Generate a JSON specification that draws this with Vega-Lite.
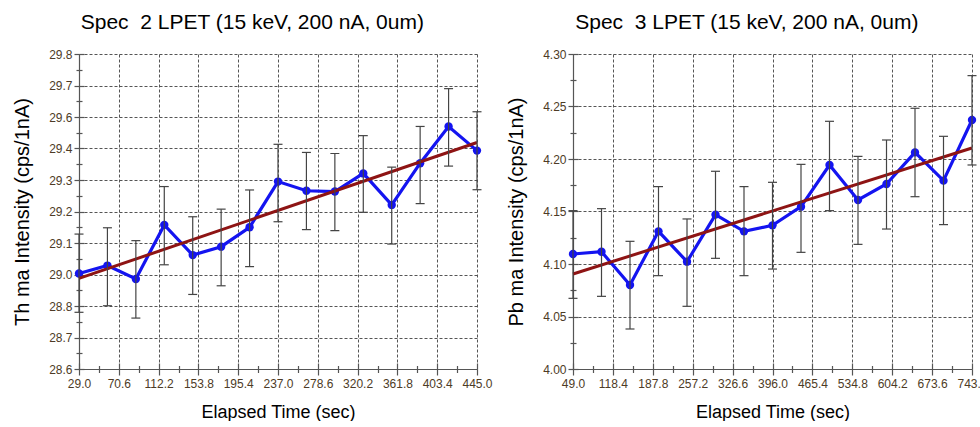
{
  "$schema": "https://vega.github.io/schema/vega-lite/v6.json",
  "padding": {"left": 12, "top": 12, "right": 0, "bottom": 0},
  "spacing": 13,
  "config": {"view": {"stroke": null}, "font": "Liberation Sans"},
  "datasets": {
    "left": [
      {"t": 29.0, "y": 28.964, "lo": 28.816, "hi": 29.114},
      {"t": 58.71, "y": 28.994, "lo": 28.841, "hi": 29.138},
      {"t": 88.43, "y": 28.943, "lo": 28.794, "hi": 29.089},
      {"t": 118.14, "y": 29.149, "lo": 28.997, "hi": 29.295},
      {"t": 147.86, "y": 29.034, "lo": 28.884, "hi": 29.18},
      {"t": 177.57, "y": 29.066, "lo": 28.917, "hi": 29.209},
      {"t": 207.29, "y": 29.14, "lo": 28.99, "hi": 29.282},
      {"t": 237.0, "y": 29.314, "lo": 29.161, "hi": 29.456},
      {"t": 266.71, "y": 29.279, "lo": 29.131, "hi": 29.425},
      {"t": 296.43, "y": 29.276, "lo": 29.127, "hi": 29.421},
      {"t": 326.14, "y": 29.345, "lo": 29.197, "hi": 29.489},
      {"t": 355.86, "y": 29.225, "lo": 29.076, "hi": 29.369},
      {"t": 385.57, "y": 29.384, "lo": 29.23, "hi": 29.524},
      {"t": 415.29, "y": 29.524, "lo": 29.373, "hi": 29.668},
      {"t": 445.0, "y": 29.432, "lo": 29.283, "hi": 29.58}
    ],
    "leftfit": [
      {"t": 29.0, "fit": 28.945},
      {"t": 445.0, "fit": 29.463}
    ],
    "right": [
      {"t": 49.0, "y": 4.1095, "lo": 4.0673, "hi": 4.1508},
      {"t": 98.57, "y": 4.1117, "lo": 4.0692, "hi": 4.1527},
      {"t": 148.14, "y": 4.08, "lo": 4.0381, "hi": 4.1216},
      {"t": 197.71, "y": 4.1311, "lo": 4.0889, "hi": 4.1737},
      {"t": 247.29, "y": 4.1022, "lo": 4.0597, "hi": 4.1429},
      {"t": 296.86, "y": 4.147, "lo": 4.1054, "hi": 4.1883},
      {"t": 346.43, "y": 4.1311, "lo": 4.0889, "hi": 4.1737},
      {"t": 396.0, "y": 4.1368, "lo": 4.0952, "hi": 4.1778},
      {"t": 445.57, "y": 4.1546, "lo": 4.1111, "hi": 4.1949},
      {"t": 495.14, "y": 4.1943, "lo": 4.1508, "hi": 4.2359},
      {"t": 544.71, "y": 4.161, "lo": 4.1187, "hi": 4.2025},
      {"t": 594.29, "y": 4.1762, "lo": 4.1333, "hi": 4.2181},
      {"t": 643.86, "y": 4.2063, "lo": 4.1641, "hi": 4.2483},
      {"t": 693.43, "y": 4.1794, "lo": 4.1375, "hi": 4.2216},
      {"t": 743.0, "y": 4.2371, "lo": 4.1943, "hi": 4.2794}
    ],
    "rightfit": [
      {"t": 49.0, "fit": 4.0905},
      {"t": 743.0, "fit": 4.2105}
    ]
  },
  "hconcat": [
    {
      "width": 398,
      "height": 315,
      "title": {"text": "Spec \u00a02 LPET (15 keV, 200 nA, 0um)", "anchor": "middle", "frame": "bounds", "font": "Liberation Sans", "fontSize": 21, "fontWeight": "normal", "color": "#000000", "offset": 15},
      "resolve": {"axis": {"x": "independent", "y": "independent"}},
      "layer": [
        {
          "data": {"name": "left"},
          "mark": {"type": "line", "color": "#1414f0", "strokeWidth": 3.2},
          "encoding": {
            "x": {"field": "t", "type": "quantitative", "scale": {"domain": [29, 445], "nice": false, "zero": false},
              "axis": {"orient": "bottom", "values": [29, 70.6, 112.2, 153.8, 195.4, 237, 278.6, 320.2, 361.8, 403.4, 445], "format": ".1f", "grid": true, "gridDash": [3, 2], "gridColor": "#555555", "gridWidth": 1, "gridOpacity": 1, "domainColor": "#555555", "domainWidth": 1.2, "tickColor": "#555555", "tickSize": 6, "tickWidth": 1.2, "labelFont": "Liberation Sans", "labelFontSize": 12, "labelColor": "#4d3b26", "labelPadding": 3, "labelFlush": false, "labelOverlap": false, "title": "Elapsed Time (sec)", "titleFont": "Liberation Sans", "titleFontSize": 18, "titleFontWeight": "normal", "titleColor": "#000000", "titlePadding": 14}},
            "y": {"field": "y", "type": "quantitative", "scale": {"domain": [28.6, 29.8], "nice": false, "zero": false},
              "axis": {"orient": "left", "values": [28.6, 28.72, 28.84, 28.96, 29.08, 29.2, 29.32, 29.44, 29.56, 29.68, 29.8], "format": ".1f", "grid": true, "gridDash": [3, 2], "gridColor": "#555555", "gridWidth": 1, "gridOpacity": 1, "domainColor": "#555555", "domainWidth": 1.2, "tickColor": "#555555", "tickSize": 5, "tickWidth": 1.2, "labelFont": "Liberation Sans", "labelFontSize": 12, "labelColor": "#4d3b26", "labelPadding": 2, "labelFlush": false, "labelOverlap": false, "title": "Th ma Intensity (cps/1nA)", "titleFont": "Liberation Sans", "titleFontSize": 20, "titleFontWeight": "normal", "titleColor": "#000000", "titlePadding": 16}}
          }
        },
        {
          "data": {"name": "left"},
          "mark": {"type": "point", "filled": true, "shape": "circle", "size": 70, "color": "#1414f0", "opacity": 1},
          "encoding": {
            "x": {"field": "t", "type": "quantitative", "axis": {"orient": "bottom", "values": [29, 70.6, 112.2, 153.8, 195.4, 237, 278.6, 320.2, 361.8, 403.4, 445], "labels": false, "domain": false, "grid": false, "tickColor": "#555555", "tickSize": -6, "tickWidth": 1.2, "title": null}},
            "y": {"field": "y", "type": "quantitative", "axis": {"orient": "left", "values": [28.6, 28.72, 28.84, 28.96, 29.08, 29.2, 29.32, 29.44, 29.56, 29.68, 29.8], "labels": false, "domain": false, "grid": false, "tickColor": "#555555", "tickSize": -5, "tickWidth": 1.2, "title": null}}
          }
        },
        {
          "data": {"name": "leftfit"},
          "mark": {"type": "line", "color": "#8e1414", "strokeWidth": 3},
          "encoding": {
            "x": {"field": "t", "type": "quantitative", "axis": {"orient": "bottom", "values": [49.8, 91.4, 133, 174.6, 216.2, 257.8, 299.4, 341, 382.6, 424.2], "labels": false, "domain": false, "grid": false, "tickColor": "#555555", "tickSize": 3.5, "tickWidth": 1.2, "title": null}},
            "y": {"field": "fit", "type": "quantitative", "axis": {"orient": "left", "values": [28.66, 28.78, 28.9, 29.02, 29.14, 29.26, 29.38, 29.5, 29.62, 29.74], "labels": false, "domain": false, "grid": false, "tickColor": "#555555", "tickSize": 3, "tickWidth": 1.2, "title": null}}
          }
        },
        {
          "data": {"name": "left"},
          "mark": {"type": "rule", "color": "#444444", "strokeWidth": 1.2},
          "encoding": {
            "x": {"field": "t", "type": "quantitative", "axis": {"orient": "bottom", "values": [49.8, 91.4, 133, 174.6, 216.2, 257.8, 299.4, 341, 382.6, 424.2], "labels": false, "domain": false, "grid": false, "tickColor": "#555555", "tickSize": -3.5, "tickWidth": 1.2, "title": null}},
            "y": {"field": "lo", "type": "quantitative", "axis": {"orient": "left", "values": [28.66, 28.78, 28.9, 29.02, 29.14, 29.26, 29.38, 29.5, 29.62, 29.74], "labels": false, "domain": false, "grid": false, "tickColor": "#555555", "tickSize": -3, "tickWidth": 1.2, "title": null}},
            "y2": {"field": "hi"}
          }
        },
        {
          "data": {"name": "left"},
          "mark": {"type": "tick", "orient": "horizontal", "color": "#444444", "size": 9, "thickness": 1.2, "opacity": 1},
          "encoding": {
            "x": {"field": "t", "type": "quantitative", "axis": null},
            "y": {"field": "lo", "type": "quantitative", "axis": null}
          }
        },
        {
          "data": {"name": "left"},
          "mark": {"type": "tick", "orient": "horizontal", "color": "#444444", "size": 9, "thickness": 1.2, "opacity": 1},
          "encoding": {
            "x": {"field": "t", "type": "quantitative", "axis": null},
            "y": {"field": "hi", "type": "quantitative", "axis": null}
          }
        }
      ]
    },
    {
      "width": 399,
      "height": 315,
      "title": {"text": "Spec \u00a03 LPET (15 keV, 200 nA, 0um)", "anchor": "middle", "frame": "bounds", "font": "Liberation Sans", "fontSize": 21, "fontWeight": "normal", "color": "#000000", "offset": 15},
      "resolve": {"axis": {"x": "independent", "y": "independent"}},
      "layer": [
        {
          "data": {"name": "right"},
          "mark": {"type": "line", "color": "#1414f0", "strokeWidth": 3.2},
          "encoding": {
            "x": {"field": "t", "type": "quantitative", "scale": {"domain": [49, 743], "nice": false, "zero": false},
              "axis": {"orient": "bottom", "values": [49, 118.4, 187.8, 257.2, 326.6, 396, 465.4, 534.8, 604.2, 673.6, 743], "format": ".1f", "grid": true, "gridDash": [3, 2], "gridColor": "#555555", "gridWidth": 1, "gridOpacity": 1, "domainColor": "#555555", "domainWidth": 1.2, "tickColor": "#555555", "tickSize": 6, "tickWidth": 1.2, "labelFont": "Liberation Sans", "labelFontSize": 12, "labelColor": "#4d3b26", "labelPadding": 3, "labelFlush": false, "labelOverlap": false, "title": "Elapsed Time (sec)", "titleFont": "Liberation Sans", "titleFontSize": 18, "titleFontWeight": "normal", "titleColor": "#000000", "titlePadding": 14}},
            "y": {"field": "y", "type": "quantitative", "scale": {"domain": [4.0, 4.3], "nice": false, "zero": false},
              "axis": {"orient": "left", "values": [4.0, 4.05, 4.1, 4.15, 4.2, 4.25, 4.3], "format": ".2f", "grid": true, "gridDash": [3, 2], "gridColor": "#555555", "gridWidth": 1, "gridOpacity": 1, "domainColor": "#555555", "domainWidth": 1.2, "tickColor": "#555555", "tickSize": 5, "tickWidth": 1.2, "labelFont": "Liberation Sans", "labelFontSize": 12, "labelColor": "#4d3b26", "labelPadding": 2, "labelFlush": false, "labelOverlap": false, "title": "Pb ma Intensity (cps/1nA)", "titleFont": "Liberation Sans", "titleFontSize": 20, "titleFontWeight": "normal", "titleColor": "#000000", "titlePadding": 16}}
          }
        },
        {
          "data": {"name": "right"},
          "mark": {"type": "point", "filled": true, "shape": "circle", "size": 70, "color": "#1414f0", "opacity": 1},
          "encoding": {
            "x": {"field": "t", "type": "quantitative", "axis": {"orient": "bottom", "values": [49, 118.4, 187.8, 257.2, 326.6, 396, 465.4, 534.8, 604.2, 673.6, 743], "labels": false, "domain": false, "grid": false, "tickColor": "#555555", "tickSize": -6, "tickWidth": 1.2, "title": null}},
            "y": {"field": "y", "type": "quantitative", "axis": {"orient": "left", "values": [4.0, 4.05, 4.1, 4.15, 4.2, 4.25, 4.3], "labels": false, "domain": false, "grid": false, "tickColor": "#555555", "tickSize": -5, "tickWidth": 1.2, "title": null}}
          }
        },
        {
          "data": {"name": "rightfit"},
          "mark": {"type": "line", "color": "#8e1414", "strokeWidth": 3},
          "encoding": {
            "x": {"field": "t", "type": "quantitative", "axis": {"orient": "bottom", "values": [83.7, 153.1, 222.5, 291.9, 361.3, 430.7, 500.1, 569.5, 638.9, 708.3], "labels": false, "domain": false, "grid": false, "tickColor": "#555555", "tickSize": 3.5, "tickWidth": 1.2, "title": null}},
            "y": {"field": "fit", "type": "quantitative", "axis": {"orient": "left", "values": [4.025, 4.075, 4.125, 4.175, 4.225, 4.275], "labels": false, "domain": false, "grid": false, "tickColor": "#555555", "tickSize": 3, "tickWidth": 1.2, "title": null}}
          }
        },
        {
          "data": {"name": "right"},
          "mark": {"type": "rule", "color": "#444444", "strokeWidth": 1.2},
          "encoding": {
            "x": {"field": "t", "type": "quantitative", "axis": {"orient": "bottom", "values": [83.7, 153.1, 222.5, 291.9, 361.3, 430.7, 500.1, 569.5, 638.9, 708.3], "labels": false, "domain": false, "grid": false, "tickColor": "#555555", "tickSize": -3.5, "tickWidth": 1.2, "title": null}},
            "y": {"field": "lo", "type": "quantitative", "axis": {"orient": "left", "values": [4.025, 4.075, 4.125, 4.175, 4.225, 4.275], "labels": false, "domain": false, "grid": false, "tickColor": "#555555", "tickSize": -3, "tickWidth": 1.2, "title": null}},
            "y2": {"field": "hi"}
          }
        },
        {
          "data": {"name": "right"},
          "mark": {"type": "tick", "orient": "horizontal", "color": "#444444", "size": 9, "thickness": 1.2, "opacity": 1},
          "encoding": {
            "x": {"field": "t", "type": "quantitative", "axis": null},
            "y": {"field": "lo", "type": "quantitative", "axis": null}
          }
        },
        {
          "data": {"name": "right"},
          "mark": {"type": "tick", "orient": "horizontal", "color": "#444444", "size": 9, "thickness": 1.2, "opacity": 1},
          "encoding": {
            "x": {"field": "t", "type": "quantitative", "axis": null},
            "y": {"field": "hi", "type": "quantitative", "axis": null}
          }
        }
      ]
    }
  ]
}
